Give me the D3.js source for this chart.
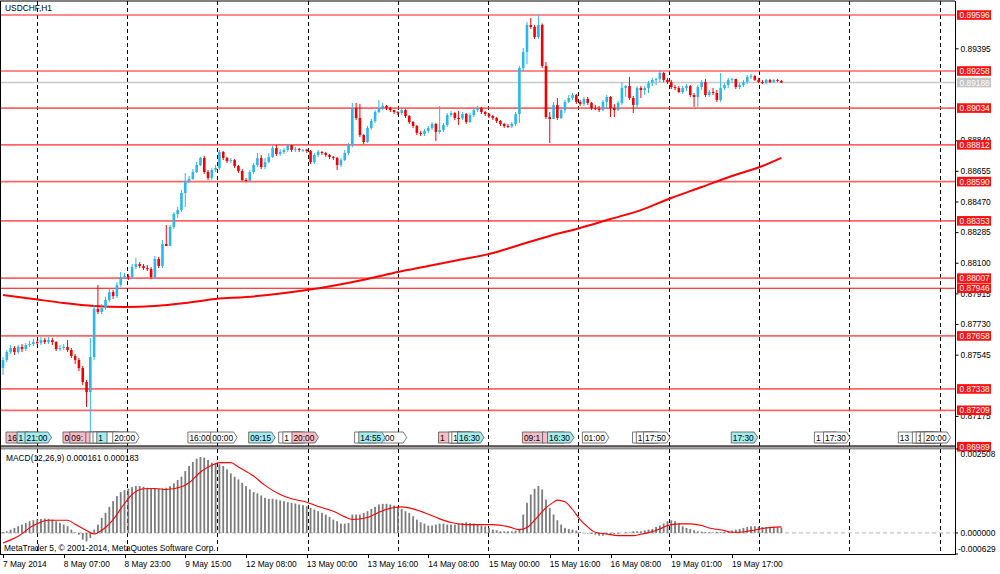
<!DOCTYPE html>
<html><head><meta charset="utf-8">
<script src="https://cdn.jsdelivr.net/npm/d3@7/dist/d3.min.js"></script>
<style>
body{margin:0;background:#fff;}
svg{display:block;}
text{font-family:"Liberation Sans",Arial,sans-serif;font-size:8.4px;fill:#000;}
</style></head>
<body><svg id="c" width="1000" height="574"></svg>
<script>
// ---------------- DATA ----------------
const title = "USDCHF,H1";
const PT = 1e-5; // price values below are in points (0.00001)
const firstOpenPts = 87464;
const closePts = [87513,87561,87585,87561,87591,87579,87603,87609,87621,87615,87633,87621,87633,87621,87579,87585,87591,87573,87537,87513,
87464,87380,87319,87531,87821,87803,87827,87875,87923,87899,87966,88014,88020,88014,88074,88092,88080,88068,88062,88014,
88123,88080,88213,88201,88316,88394,88418,88521,88594,88606,88648,88690,88733,88648,88612,88660,88672,88769,88733,88714,
88720,88684,88654,88600,88594,88648,88690,88733,88678,88708,88739,88793,88757,88769,88781,88811,88781,88787,88781,88783,
88775,88708,88751,88769,88763,88751,88739,88733,88690,88720,88763,88811,89034,88974,88871,88829,88914,88956,89010,89034,
89047,89034,89022,89010,89004,89022,88986,88950,88926,88884,88878,88896,88914,88938,88890,88902,88932,88992,89004,88974,
88972,88998,88950,88992,89022,89034,89010,88998,88986,88974,88956,88938,88926,88923,88938,88998,89276,89373,89536,89524,
89463,89536,89288,88980,88968,89053,88974,89022,89071,89095,89113,89071,89059,89089,89065,89034,89028,89022,89071,89101,
89034,89022,89065,89155,89167,89095,89053,89155,89143,89155,89185,89204,89210,89246,89204,89191,89161,89155,89131,89155,
89167,89113,89101,89161,89191,89113,89131,89125,89083,89155,89173,89204,89210,89161,89173,89191,89222,89228,89204,89191,
89185,89204,89191,89204,89198,89188];
const highPts = [87531,87573,87603,87597,87603,87609,87615,87627,87640,87633,87652,87646,87652,87646,87627,87603,87609,87633,87585,87549,
87525,87476,87392,87646,87845,87966,87851,87893,87941,87935,87984,88044,88038,88032,88092,88129,88104,88092,88086,88074,
88141,88135,88237,88328,88328,88406,88437,88539,88642,88624,88666,88708,88739,88745,88660,88672,88690,88781,88775,88739,
88733,88726,88690,88666,88612,88660,88702,88763,88751,88733,88763,88805,88811,88787,88793,88817,88805,88799,88793,88787,
88787,88781,88763,88781,88775,88769,88757,88745,88739,88733,88781,88823,89065,89065,89059,88878,88926,88968,89022,89083,
89065,89053,89041,89022,89016,89034,89028,88992,88956,88932,88896,88908,88926,88950,88944,89047,88944,89004,89016,89010,
89016,89010,89004,89004,89034,89047,89041,89016,89004,88992,88980,88962,88944,88938,88950,89010,89288,89397,89554,89578,
89536,89596,89545,89312,89010,89071,89095,89041,89083,89113,89125,89119,89083,89101,89101,89071,89053,89047,89083,89113,
89107,89059,89077,89191,89173,89222,89107,89167,89167,89167,89198,89216,89216,89264,89252,89216,89204,89173,89167,89167,
89179,89173,89125,89173,89204,89210,89143,89155,89143,89246,89185,89216,89216,89210,89185,89204,89234,89240,89234,89216,
89204,89210,89210,89210,89210,89204];
const lowPts = [87422,87501,87549,87543,87549,87561,87567,87591,87597,87603,87603,87609,87609,87603,87567,87567,87573,87561,87525,87489,
87446,87362,87229,87030,87513,87790,87790,87815,87863,87881,87887,87954,88002,87996,88002,88062,88068,88056,88050,88002,
88002,88068,88068,88201,88201,88304,88370,88406,88437,88582,88600,88642,88684,88636,88600,88600,88648,88660,88720,88702,
88702,88672,88642,88594,88588,88594,88636,88678,88666,88666,88702,88733,88745,88745,88757,88769,88769,88769,88769,88769,
88763,88696,88696,88739,88751,88739,88726,88720,88660,88678,88714,88751,88799,88962,88859,88817,88823,88902,88944,89004,
89022,89022,89010,88998,88992,88992,88974,88938,88914,88871,88865,88865,88884,88902,88835,88878,88890,88920,88980,88962,
88932,88962,88938,88944,88980,89010,88998,88986,88974,88962,88944,88926,88914,88914,88914,88926,88944,89252,89300,89512,
89451,89451,89276,88968,88823,88968,88962,88968,89004,89065,89083,89059,89047,89047,89053,89022,89022,89010,89016,89034,
88980,88980,89016,89053,89101,89083,89004,89034,89095,89113,89125,89167,89173,89191,89191,89179,89149,89143,89125,89119,
89137,89101,89041,89041,89143,89101,89101,89113,89071,89071,89143,89155,89185,89149,89149,89161,89179,89210,89198,89185,
89179,89179,89185,89185,89191,89185];

// Moving average (sampled at bar indices)
const maBars = [0,8,16,24,32,40,48,56,64,72,80,88,96,104,112,120,128,136,144,152,160,168,176,184,192,200,205];
const maVals = [0.87905,0.87881,0.87857,0.87839,0.87833,0.87839,0.87857,0.87881,0.87893,0.87911,0.87935,0.87966,0.88002,0.88044,0.88080,0.88117,0.88153,0.88207,0.88262,0.88310,0.88364,0.88418,0.88491,0.88557,0.88624,0.88684,0.88733];

// MACD(12,26,9) histogram, units of 0.00001
const macdHist = [3,5,10,15,20,25,30,35,38,40,42,43,42,40,35,30,25,20,10,2,
-5,-20,-25,-15,10,25,45,60,78,95,110,122,128,132,137,140,140,138,135,133,
132,132,133,135,140,148,158,168,185,200,212,222,227,225,218,210,207,205,200,190,
178,168,160,150,140,130,122,118,112,105,102,102,100,97,95,92,90,88,85,83,
80,75,70,65,60,55,48,40,35,28,28,30,55,55,55,60,65,72,78,85,
87,87,85,82,78,72,65,60,50,40,32,28,22,22,25,28,28,25,25,25,
28,30,32,30,28,25,22,20,15,10,8,5,5,5,5,7,12,55,90,115,
132,140,130,100,75,55,38,25,15,12,10,7,3,0,-2,-3,-5,-8,-8,-5,
-5,-3,-2,0,2,2,5,5,5,8,10,12,18,22,28,35,38,35,28,20,
15,12,8,5,4,3,2,2,3,3,3,4,7,10,12,15,18,20,20,19,
18,18,18,17,16,16];
const signalBars = [0,4,8,12,17,19,22,24,26,29,32,34,37,40,43,47,49,52,55,57,60,62,66,69,73,76,80,83,87,90,92,96,99,103,105,108,112,115,118,122,126,129,133,136,138,140,143,145,146,148,150,152,154,156,159,162,166,168,170,173,175,178,181,184,186,190,192,194,197,201,205];
const signalVals = [-30,-10,22,38,38,26,7,-3,8,40,88,115,132,133,130,138,150,182,202,210,210,197,170,142,115,102,92,79,65,48,40,46,62,76,78,72,56,42,31,25,25,25,19,10,16,38,75,92,98,93,70,40,18,2,-3,-8,-8,-4,1,12,22,27,27,22,15,7,2,2,7,15,18];
const macdLabel = "MACD(12,26,9) 0.000161 0.000183";
const macdTicks = [0.002508, 0.000000, -0.000629];

// horizontal levels
const levels = [0.89596,0.89258,0.89034,0.88812,0.88590,0.88353,0.88007,0.87946,0.87658,0.87338,0.87209,0.86989];
const levelThin = [0.87946];
const bidPrice = 0.89188;
const priceTicks = [0.89580,0.89395,0.89210,0.89025,0.88840,0.88655,0.88470,0.88285,0.88100,0.87915,0.87730,0.87545,0.87360,0.87175,0.86990];

// time axis
const timeBars = [0,16,32,48,64,80,96,112,128,144,160,176,192];
const timeLabels = ["7 May 2014","8 May 07:00","8 May 23:00","9 May 15:00","12 May 08:00","13 May 00:00","13 May 16:00","14 May 08:00","15 May 00:00","15 May 16:00","16 May 08:00","19 May 01:00","19 May 17:00"];

// event tags along the bottom of the price window (visible text only; later tags cover earlier ones)
const tagBars  = [0.8,3.7,5.8,15.8,17.6,21.8,22.9,23.7,24.7,27.4,28.9,48.7,54.7,64.7,72.6,73.7,76.1,92.6,99.6,93.7,114.7,117.4,118.2,119.7,136.8,142.1,143.4,152.6,165.8,166.8,168.7,191.8,213.7,216.1,235.8,239.5,240.5,241.6,242.6];
const tagTexts = ["16","1","21:00","0","09:","","","","1","","20:00","16:00","00:00","09:15","","1","20:00","",":00","14:55","1","","1","16:30","09:1","","16:30","01:00","","1","17:50","17:30","1","17:30","13","","1","","20:00"];
const tagKinds = ["p","c","c","p","p","p","w","w","c","w","w","w","w","c","w","w","p","w","w","c","p","w","w","c","p","p","c","w","w","w","w","c","w","w","w","w","w","w","w"];

const copyright = "MetaTrader 5, \u00A9 2001-2014, MetaQuotes Software Corp.";

// ---------------- LAYOUT ----------------
const plotL = 1, plotR = 955, mainTop = 1, mainBot = 446, macdTop = 449, macdBot = 554;
const svg = d3.select("#c");
const N = closePts.length;
const x = d3.scaleLinear().domain([0, N - 1]).range([3, 3 + (N - 1) * 3.797]);
const y = d3.scaleLinear().domain([0.869933, 0.896746]).range([446, 2]);
const ym = d3.scaleLinear().domain([-0.000629, 0.002508]).range([macdBot, macdTop]);

const bars = closePts.map((c, i) => {
  const o = (i === 0 ? firstOpenPts : closePts[i - 1]) * PT;
  const cc = c * PT;
  return {i, o, c: cc, h: Math.max(highPts[i] * PT, o, cc), l: Math.min(lowPts[i] * PT, o, cc)};
});

svg.append("rect").attr("width", 1000).attr("height", 574).attr("fill", "#fff");

svg.append("clipPath").attr("id", "mainClip").append("rect")
  .attr("x", plotL).attr("y", mainTop).attr("width", plotR - plotL).attr("height", mainBot - mainTop);
svg.append("clipPath").attr("id", "macdClip").append("rect")
  .attr("x", plotL).attr("y", macdTop).attr("width", plotR - plotL).attr("height", macdBot - macdTop);

const gMain = svg.append("g").attr("clip-path", "url(#mainClip)");
const gMacd = svg.append("g").attr("clip-path", "url(#macdClip)");

// vertical dashed grid
const gridBars = d3.range(8.87, 260, 23.78);
[[gMain, mainTop, mainBot], [gMacd, macdTop, macdBot]].forEach(([g, t, b]) => {
  g.selectAll(null).data(gridBars).join("line")
    .attr("x1", d => Math.round(x(d)) + 0.5).attr("x2", d => Math.round(x(d)) + 0.5)
    .attr("y1", t).attr("y2", b)
    .attr("stroke", "#000").attr("stroke-width", 1).attr("stroke-dasharray", "4,3");
});

// level lines
gMain.selectAll(null).data(levels).join("line")
  .attr("x1", plotL).attr("x2", plotR)
  .attr("y1", d => y(d)).attr("y2", d => y(d))
  .attr("stroke", d => levelThin.includes(d) ? "#ff0000" : "#ff4a4a")
  .attr("stroke-width", d => levelThin.includes(d) ? 1.1 : 1.7)
  .attr("stroke-opacity", d => levelThin.includes(d) ? 1 : 0.85);

// bid line
gMain.append("line").attr("x1", plotL).attr("x2", plotR)
  .attr("y1", y(bidPrice)).attr("y2", y(bidPrice))
  .attr("stroke", "#c8c8c8").attr("stroke-width", 1.5);

// moving average
gMain.append("path")
  .datum(maBars.map((b, k) => [b, maVals[k]]))
  .attr("fill", "none").attr("stroke", "#ff0000").attr("stroke-width", 2)
  .attr("d", d3.line().x(d => x(d[0])).y(d => y(d[1])).curve(d3.curveMonotoneX));

// candles
const bull = "#28b7f1", bear = "#f40000";
const gc = gMain.append("g");
gc.selectAll("line").data(bars).join("line")
  .attr("x1", d => x(d.i)).attr("x2", d => x(d.i))
  .attr("y1", d => y(d.h)).attr("y2", d => y(d.l))
  .attr("stroke", d => d.c >= d.o ? bull : bear).attr("stroke-width", 1);
gc.selectAll("rect").data(bars).join("rect")
  .attr("x", d => x(d.i) - 1.3).attr("width", 2.6)
  .attr("y", d => y(Math.max(d.o, d.c)))
  .attr("height", d => Math.max(1, Math.abs(y(d.o) - y(d.c))))
  .attr("fill", d => d.c >= d.o ? bull : bear);

// event tags
const tagFill = {p: "#f8bcc6", c: "#a3ecef", w: "#ffffff"};
const gt = gMain.append("g");
tagBars.forEach((b, k) => {
  const x0 = x(b), y0 = 432, h = 11;
  const g = gt.append("g");
  const path = g.append("path");
  let tw = 0;
  if (tagTexts[k]) {
    const t = g.append("text").attr("x", x0 + 1.5).attr("y", y0 + 8.6).text(tagTexts[k]);
    tw = t.node().getComputedTextLength();
  }
  const w = Math.max(tw + 2, 22);
  path.attr("d", `M${x0},${y0}H${x0 + w}L${x0 + w + 3.5},${y0 + h / 2}L${x0 + w},${y0 + h}H${x0}Z`)
    .attr("fill", tagFill[tagKinds[k]]).attr("stroke", "#555").attr("stroke-width", 0.8);
});

// MACD zero line
gMacd.append("line").attr("x1", plotL).attr("x2", plotR)
  .attr("y1", ym(0)).attr("y2", ym(0))
  .attr("stroke", "#b4b4b4").attr("stroke-width", 1).attr("stroke-dasharray", "4,3");
// histogram
gMacd.selectAll("rect.h").data(macdHist).join("rect").attr("class", "h")
  .attr("x", (d, i) => x(i) - 0.9).attr("width", 1.8)
  .attr("y", d => ym(Math.max(0, d * PT)))
  .attr("height", d => Math.abs(ym(d * PT) - ym(0)))
  .attr("fill", "#7c7c7c");
// signal
gMacd.append("path")
  .datum(signalBars.map((b, k) => [b, signalVals[k] * PT]))
  .attr("fill", "none").attr("stroke", "#ff0000").attr("stroke-width", 1.1)
  .attr("d", d3.line().x(d => x(d[0])).y(d => ym(d[1])).curve(d3.curveMonotoneX));

// frames
svg.append("rect").attr("x", plotL - 0.5).attr("y", 446).attr("width", plotR - plotL + 1).attr("height", 3).attr("fill", "#a8a8a8");
svg.append("line").attr("x1", 0).attr("x2", plotR).attr("y1", 446).attr("y2", 446).attr("stroke", "#000");
svg.append("line").attr("x1", 0).attr("x2", plotR).attr("y1", 449).attr("y2", 449).attr("stroke", "#555").attr("stroke-width", 0.6);
svg.append("line").attr("x1", 0).attr("x2", plotR).attr("y1", 1).attr("y2", 1).attr("stroke", "#000");
svg.append("line").attr("x1", 0.5).attr("x2", 0.5).attr("y1", 1).attr("y2", macdBot).attr("stroke", "#000");
svg.append("line").attr("x1", plotR + 0.5).attr("x2", plotR + 0.5).attr("y1", 1).attr("y2", macdBot).attr("stroke", "#000");
svg.append("line").attr("x1", 0).attr("x2", plotR + 1).attr("y1", macdBot + 0.5).attr("y2", macdBot + 0.5).attr("stroke", "#000");

// price axis (labels hidden where a level label sits on them)
const labelled = levels.concat([bidPrice]);
const visibleTicks = priceTicks.filter(t => labelled.every(v => Math.abs(y(v) - y(t)) > 4.2));
const axR = svg.append("g").attr("transform", `translate(${plotR + 0.5},0)`)
  .call(d3.axisRight(y).tickValues(visibleTicks).tickFormat(d3.format(".5f")).tickSize(3).tickPadding(2));
axR.select(".domain").remove();
axR.selectAll("text").attr("font-family", "Liberation Sans, Arial, sans-serif").attr("font-size", "8.4px").attr("fill", "#000");
axR.selectAll("line").attr("stroke", "#000");

// level labels
const gl = svg.append("g");
levels.forEach(v => {
  gl.append("rect").attr("x", 957).attr("y", y(v) - 4.8).attr("width", 34).attr("height", 9.6).attr("fill", "#ff1010");
  gl.append("text").attr("x", 959.5).attr("y", y(v) + 3).style("fill", "#fff").text(d3.format(".5f")(v));
});
gl.append("rect").attr("x", 957).attr("y", y(bidPrice) - 4.8).attr("width", 34).attr("height", 9.6).attr("fill", "#c4c4c4");
gl.append("text").attr("x", 959.5).attr("y", y(bidPrice) + 3).style("fill", "#fff").text(d3.format(".5f")(bidPrice));

// MACD axis
const macdLabelY = [macdTop + 8, ym(0) + 3, macdBot - 2];
macdTicks.forEach((v, k) => {
  svg.append("line").attr("x1", plotR).attr("x2", plotR + 3).attr("y1", ym(v)).attr("y2", ym(v)).attr("stroke", "#000");
  svg.append("text").attr("x", v < 0 ? 958 : 960.5).attr("y", macdLabelY[k]).text(v.toFixed(6));
});

// time axis
timeBars.forEach((b, k) => {
  svg.append("line").attr("x1", Math.round(x(b)) + 0.5).attr("x2", Math.round(x(b)) + 0.5)
    .attr("y1", macdBot).attr("y2", macdBot + 4).attr("stroke", "#000");
  svg.append("text").attr("x", x(b)).attr("y", 567).text(timeLabels[k]);
});

// texts
svg.append("text").attr("x", 5).attr("y", 11).text(title);
svg.append("text").attr("x", 6).attr("y", 461).text(macdLabel);
svg.append("text").attr("x", 4).attr("y", 551).text(copyright);
</script>
</body></html>
